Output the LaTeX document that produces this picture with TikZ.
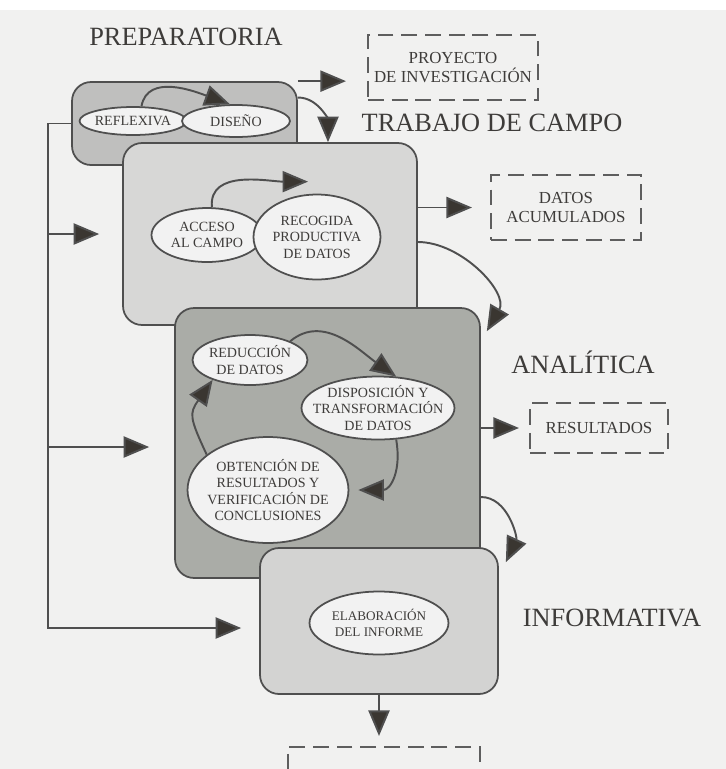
\documentclass[tikz,border=0pt]{standalone}
\usepackage{fontspec}
\setmainfont{Liberation Serif}
\usetikzlibrary{arrows.meta,shapes.geometric}

\definecolor{ink}{HTML}{3E3C3A}
\definecolor{edge}{HTML}{4F4F4F}
\definecolor{tipc}{HTML}{3A3631}
\definecolor{dashc}{HTML}{5E5E5E}
\definecolor{pagec}{HTML}{F1F1F0}
\definecolor{prepc}{HTML}{BFBFBE}
\definecolor{campoc}{HTML}{D7D7D6}
\definecolor{anac}{HTML}{AAACA7}
\definecolor{infc}{HTML}{D3D3D2}
\definecolor{ovalc}{HTML}{F2F2F2}

\begin{document}
\begin{tikzpicture}[x=0.02cm,y=-0.02cm,
	phase/.style={draw=edge,line width=1pt,rounded corners=0.38cm,inner sep=0pt},
	oval/.style={ellipse,draw=edge,line width=1pt,fill=ovalc,inner sep=0pt},
	ovaltext/.style={text=ink,font=\fontsize{8}{9.4}\selectfont,align=center,inner sep=0pt},
	outbox/.style={draw=dashc,line width=1.2pt,dash pattern=on 9pt off 4.5pt,text=ink,
		font=\fontsize{9.6}{11}\selectfont,align=center,inner sep=0pt},
	title/.style={text=ink,font=\fontsize{15}{18}\selectfont},
	flow/.style={draw=edge,line width=1.1pt,-{Triangle[length=14.5pt,width=12pt,fill=tipc]}}]
\clip (0,0) rectangle (726,769);
\fill[white] (0,0) rectangle (726,769);
\fill[pagec] (0,10) rectangle (726,769);%page

\node[title] (tprep) at (186,37) {PREPARATORIA};
\node[title] (tcampo) at (492,123) {TRABAJO DE CAMPO};
\node[title] (tana) at (583,362) {ANALÍTICA};
\node[title] (tinf) at (612,618) {INFORMATIVA};

\node[outbox,minimum width=3.4cm,minimum height=1.3cm] (proyecto) at (453,67.5) {PROYECTO\\DE INVESTIGACIÓN};
\node[outbox,minimum width=3.0cm,minimum height=1.3cm] (datos) at (566,207.5) {DATOS\\ACUMULADOS};
\node[outbox,minimum width=2.76cm,minimum height=1.0cm] (resultados) at (599,428) {RESULTADOS};
\node[outbox,minimum width=3.84cm,minimum height=1.2cm] (final) at (384,777) {};%cut by the page

\node[phase,fill=prepc,minimum width=4.5cm,minimum height=1.66cm] (prep) at (184.5,123.5) {};%preparatoria
\node[oval,minimum width=2.14cm,minimum height=0.56cm,label={[ovaltext,name=treflexiva]center:REFLEXIVA}] (reflexiva) at (133,121) {};
\node[oval,minimum width=2.16cm,minimum height=0.64cm,label={[ovaltext,name=tdiseno]center:DISEÑO}] (diseno) at (236,121) {};

\node[phase,fill=campoc,minimum width=5.88cm,minimum height=3.64cm] (campo) at (270,234) {};%trabajo de campo
\node[oval,minimum width=2.22cm,minimum height=1.08cm,label={[ovaltext,name=tacceso]center:ACCESO\\AL CAMPO}] (acceso) at (207,235) {};
\node[oval,minimum width=2.54cm,minimum height=1.7cm,label={[ovaltext,name=trecogida]center:RECOGIDA\\PRODUCTIVA\\DE DATOS}] (recogida) at (317,237) {};

\node[phase,fill=anac,minimum width=6.1cm,minimum height=5.4cm] (analitica) at (327.5,443) {};%analitica
\node[oval,minimum width=2.3cm,minimum height=1.0cm,label={[ovaltext,name=treduccion]center:REDUCCIÓN\\DE DATOS}] (reduccion) at (250,360) {};
\node[oval,minimum width=3.06cm,minimum height=1.26cm,label={[ovaltext,name=tdisposicion]center:DISPOSICIÓN Y\\TRANSFORMACIÓN\\DE DATOS}] (disposicion) at (378,408) {};
\node[oval,minimum width=3.22cm,minimum height=2.12cm,label={[ovaltext,name=tobtencion]center:OBTENCIÓN DE\\RESULTADOS Y\\VERIFICACIÓN DE\\CONCLUSIONES}] (obtencion) at (268,490) {};

\node[phase,fill=infc,minimum width=4.76cm,minimum height=2.92cm] (informe) at (379,621) {};%informativa
\node[oval,minimum width=2.78cm,minimum height=1.26cm,label={[ovaltext,font=\fontsize{7.5}{9}\selectfont,name=telaboracion]center:ELABORACIÓN\\DEL INFORME}] (elaboracion) at (379,623) {};

% left rail
\coordinate (railtop) at (48,123.5);
\coordinate (anain) at ([yshift=-0.08cm]analitica.west);
\draw[flow,shorten >=0.36cm] (prep.west) -- (railtop) |- ([yshift=-0.14cm]informe.west);
\draw[flow,shorten >=0.46cm] (railtop |- campo.west) -- (campo.west);
\draw[flow,shorten >=0.5cm] (railtop |- anain) -- (anain);

% between phases
\draw[flow,shorten >=0.42cm] (prep.north east) -- (prep.north east -| proyecto.west);
\draw[flow] ([yshift=0.52cm]prep.east) to[out=0,in=90] ([xshift=1.16cm]campo.north);
\draw[flow,shorten >=0.36cm] (campo.east |- datos.west) -- (datos.west);
\draw[flow] ([yshift=-0.16cm]campo.east) to[out=0,in=60] ([shift={(0.12cm,-0.48cm)}]analitica.north east);
\draw[flow,shorten >=0.2cm] (analitica.east |- resultados.west) -- (resultados.west);
\draw[flow] ([yshift=-1.08cm]analitica.east) to[out=0,in=65] ([shift={(0.14cm,-0.3cm)}]informe.north east);
\draw[flow,shorten >=0.2cm] (informe.south) -- (informe.south |- final.north);

% inside the phases
\draw[flow] (reflexiva.60) to[out=80,in=160] (diseno.110);
\draw[flow] (acceso.80) to[out=95,in=180] ([shift={(-0.18cm,0.24cm)}]recogida.north);
\draw[flow] (reduccion.25) to[out=40,in=145] (disposicion.60);
\draw[flow] (disposicion.-60) to[out=-80,in=0,looseness=1.3] ([xshift=0.18cm]obtencion.east);
\draw[flow] (obtencion.150) to[out=115,in=235,looseness=1.4] (reduccion.208);

\end{tikzpicture}
\end{document}
